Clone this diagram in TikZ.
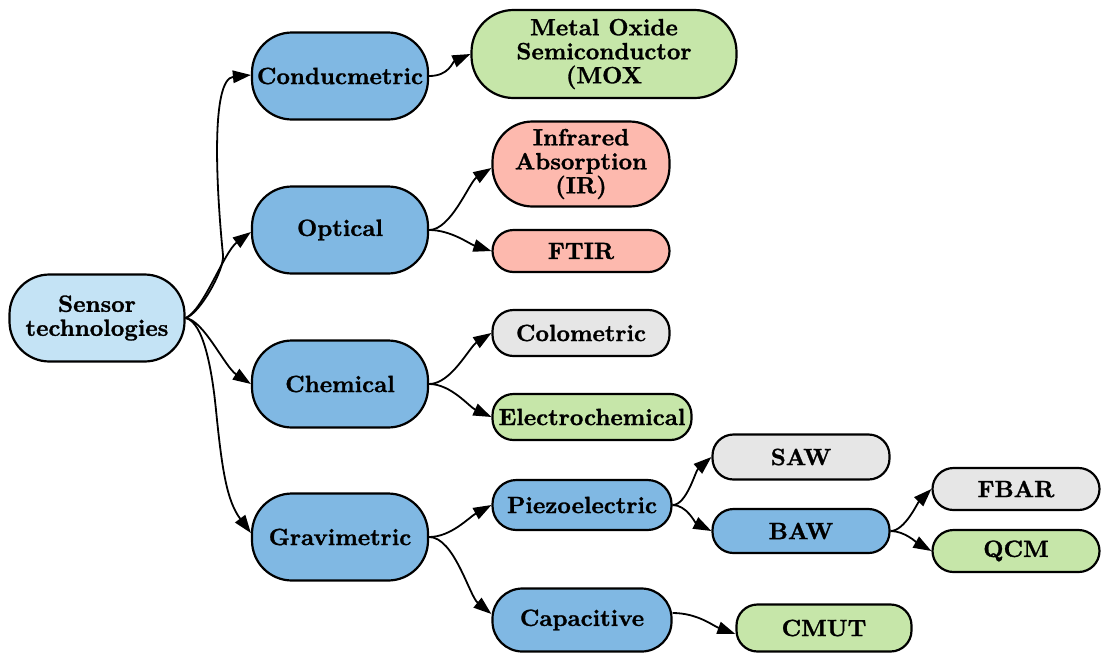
\documentclass[tikz,border=0pt]{standalone}
\usepackage{fontspec}
\usetikzlibrary{arrows.meta}

% heavy serif for the labels
\newfontfamily\labelfont{lmroman10-bold.otf}[FakeBold=1.2]

\definecolor{rootblue}{HTML}{C4E3F5}
\definecolor{midblue}{HTML}{80B8E3}
\definecolor{leafgreen}{HTML}{C6E6A9}
\definecolor{leafpink}{HTML}{FDB9AE}
\definecolor{leafgray}{HTML}{E6E6E6}

\tikzset{
  box/.style={draw=black, line width=2.2pt, align=center, inner sep=0pt,
    font=\fontsize{23.5}{24}\selectfont\labelfont},
  tall/.style={box, minimum width=176pt, minimum height=87pt, rounded corners=40pt},
  short/.style={box, minimum width=177pt, minimum height=44pt, rounded corners=21pt},
  link/.style={line width=1.8pt, -{Triangle[length=18pt,width=12.5pt]}},
}

\begin{document}
\begin{tikzpicture}[x=1pt,y=-1pt]
\useasboundingbox (0,0) rectangle (1102,654);

% root
\node[tall, fill=rootblue, minimum width=175pt] (sensor) at (97,318) {Sensor\\technologies};

% first level
\node[tall, fill=midblue] (cond) at (340,76)  {Conducmetric};
\node[tall, fill=midblue] (opt)  at (340,230) {Optical};
\node[tall, fill=midblue] (chem) at (340,384) {Chemical};
\node[tall, fill=midblue] (grav) at (340,537) {Gravimetric};

% second level
\node[tall, fill=leafgreen, minimum width=265pt, minimum height=88pt, rounded corners=42pt] (mox) at (604,54) {Metal Oxide\\Semiconductor\\(MOX};
\node[tall, fill=leafpink, minimum width=177pt, minimum height=85pt] (ir) at (581,164) {Infrared\\Absorption\\(IR)};
\node[short, fill=leafpink, minimum height=42pt] (ftir) at (581,251) {FTIR};
\node[short, fill=leafgray, minimum height=46pt] (colo) at (581,333) {Colometric};
\node[short, fill=leafgreen, minimum width=199pt, minimum height=46pt] (elec) at (592,417) {Electrochemical};
\node[short, fill=midblue, minimum width=179pt, minimum height=50pt, rounded corners=24pt] (piezo) at (582,505) {Piezoelectric};
\node[short, fill=midblue, minimum width=179pt, minimum height=63pt, rounded corners=30pt] (cap) at (582,620) {Capacitive};

% third level
\node[short, fill=leafgray, minimum height=45pt] (saw) at (801,457) {SAW};
\node[short, fill=midblue] (baw) at (801,531) {BAW};
\node[short, fill=leafgreen, minimum width=175pt, minimum height=47pt] (cmut) at (824,628) {CMUT};

% fourth level
\node[short, fill=leafgray, minimum width=167pt, minimum height=42pt] (fbar) at (1016,489) {FBAR};
\node[short, fill=leafgreen, minimum width=167pt, minimum height=42pt] (qcm) at (1016,551) {QCM};

% bends of the long connectors from the root
\coordinate (upbend) at (223,255);
\coordinate (downbend) at (216,410);

% connectors from the root
\draw[link] (sensor.east) .. controls +(14,-4) and +(1.5,15) .. (upbend)
  .. controls +(-7,-70) and +(-40,4) .. ([yshift=1pt]cond.west);
\draw[link] (sensor.east) .. controls +(18,-8) and +(-27,20) .. ([yshift=-2pt]opt.west);
\draw[link] (sensor.east) .. controls +(18,2) and +(-26,-17) .. (chem.west);
\draw[link] (sensor.east) .. controls +(18,4) and +(-4,-40) .. (downbend)
  .. controls +(6,60) and +(-24,-32) .. ([yshift=4pt]grav.west);

% connectors from the first level
\draw[link] (cond.east) .. controls +(20,0) and +(-18,8) .. (mox.west);
\draw[link] (opt.east) .. controls +(22,0) and +(-22,14) .. ([yshift=-4pt]ir.west);
\draw[link] (opt.east) .. controls +(22,0) and +(-22,-7) .. (ftir.west);
\draw[link] (chem.east) .. controls +(22,0) and +(-22,14) .. (colo.west);
\draw[link] (chem.east) .. controls +(22,0) and +(-22,-10) .. (elec.west);
\draw[link] (grav.east) .. controls +(22,0) and +(-22,12) .. (piezo.west);
\draw[link] (grav.east) .. controls +(25,0) and +(-22,-18) .. ([yshift=6pt]cap.west);

% connectors from the second level
\draw[link] (piezo.east) .. controls +(14,0) and +(-16,14) .. (saw.west);
\draw[link] (piezo.east) .. controls +(14,0) and +(-16,-8) .. (baw.west);
\draw[link] ([yshift=7pt]cap.east) .. controls +(25,0) and +(-22,-8) .. ([yshift=-6pt]cmut.west);

% connectors from the third level
\draw[link] (baw.east) .. controls +(14,0) and +(-14,14) .. (fbar.west);
\draw[link] (baw.east) .. controls +(14,0) and +(-14,-8) .. (qcm.west);
\end{tikzpicture}
\end{document}
